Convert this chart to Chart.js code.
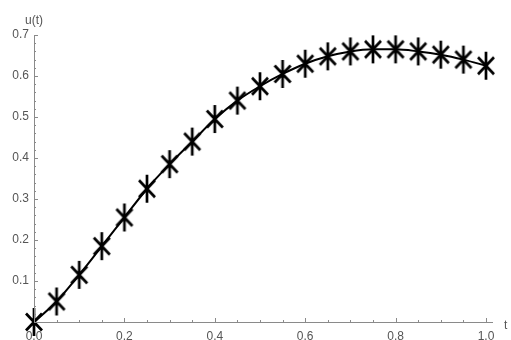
<!DOCTYPE html>
<html>
<head>
<meta charset="utf-8">
<script src="https://cdn.jsdelivr.net/npm/chart.js@4/dist/chart.umd.min.js"></script>
<style>
  body { margin: 0; background: #fff; }
  #wrap { width: 511px; height: 340px; }
</style>
</head>
<body>
<div id="wrap"><canvas id="chart"></canvas></div>
<script>
const tValues = [0, 0.05, 0.1, 0.15, 0.2, 0.25, 0.3, 0.35, 0.4, 0.45, 0.5,
                 0.55, 0.6, 0.65, 0.7, 0.75, 0.8, 0.85, 0.9, 0.95, 1.0];
const uValues = [0, 0.05, 0.115, 0.185, 0.255, 0.325, 0.385, 0.44, 0.495, 0.54, 0.575,
                 0.605, 0.63, 0.648, 0.66, 0.665, 0.665, 0.66, 0.652, 0.64, 0.625];
const xTicks = [0, 0.2, 0.4, 0.6, 0.8, 1.0];
const yTicks = [0.1, 0.2, 0.3, 0.4, 0.5, 0.6, 0.7];
const xMinorStep = 0.05;
const yMinorStep = 0.02;

const axisColor = '#8a8a8a';
const labelColor = '#555';

// asterisk marker: vertical bar + X
function makeStar() {
    const c = document.createElement('canvas');
    c.width = 20; c.height = 30;
    const g = c.getContext('2d');
    g.strokeStyle = '#000';
    g.lineWidth = 2.7;
    g.lineCap = 'butt';
    g.beginPath();
    g.moveTo(10, 1); g.lineTo(10, 29);
    g.moveTo(2, 6.5); g.lineTo(18, 23.5);
    g.moveTo(18, 6.5); g.lineTo(2, 23.5);
    g.stroke();
    return c;
}

// Mathematica-style axes with inward ticks
const axesPlugin = {
    id: 'axes',
    afterDraw(chart) {
        const ctx = chart.ctx;
        const x = chart.scales.x, y = chart.scales.y;
        const x0 = x.getPixelForValue(0), y0 = y.getPixelForValue(0);
        ctx.save();
        ctx.strokeStyle = axisColor;
        ctx.lineWidth = 1;
        ctx.beginPath();
        ctx.moveTo(x0 + 0.5, y0);
        ctx.lineTo(x0 + 0.5, y.getPixelForValue(0.7));
        ctx.moveTo(x0, y0 + 0.5);
        ctx.lineTo(x.getPixelForValue(1.0) + 7, y0 + 0.5);
        for (let i = 1; i * xMinorStep <= 1.0001; i++) {
            const v = i * xMinorStep;
            const px = Math.round(x.getPixelForValue(v)) + 0.5;
            const len = (i % 4 === 0) ? 4 : 2;
            ctx.moveTo(px, y0);
            ctx.lineTo(px, y0 - len);
        }
        for (let i = 1; i * yMinorStep <= 0.7001; i++) {
            const v = i * yMinorStep;
            const py = Math.round(y.getPixelForValue(v)) + 0.5;
            const len = (i % 5 === 0) ? 4 : 2;
            ctx.moveTo(x0, py);
            ctx.lineTo(x0 + len, py);
        }
        ctx.stroke();

        ctx.fillStyle = labelColor;
        ctx.font = '12px "Liberation Sans", Arial, sans-serif';
        ctx.textAlign = 'center';
        ctx.textBaseline = 'middle';
        ctx.fillText('u(t)', x0, 21);
        ctx.textAlign = 'left';
        ctx.fillText('t', x.getPixelForValue(1.0) + 18, y0 + 4);
        ctx.restore();
    }
};

const ctx = document.getElementById('chart').getContext('2d');
new Chart(ctx, {
    type: 'line',
    data: {
        datasets: [{
            data: tValues.map((t, i) => ({ x: t, y: uValues[i] })),
            borderColor: '#000',
            borderWidth: 2,
            cubicInterpolationMode: 'monotone',
            pointStyle: makeStar(),
            pointRadius: 10,
            clip: false
        }]
    },
    options: {
        responsive: true,
        maintainAspectRatio: false,
        animation: false,
        events: [],
        layout: { padding: { top: 35, right: 25, left: 0, bottom: 0 } },
        plugins: { legend: { display: false }, tooltip: { enabled: false } },
        scales: {
            x: {
                type: 'linear',
                min: 0,
                max: 1.0,
                afterBuildTicks: s => { s.ticks = xTicks.map(v => ({ value: v })); },
                afterFit: s => { s.height = 18; },
                grid: { display: false, drawTicks: false },
                border: { display: false },
                ticks: {
                    color: labelColor,
                    padding: 7,
                    font: { family: '"Liberation Sans", Arial, sans-serif', size: 12 },
                    callback: v => v.toFixed(1)
                }
            },
            y: {
                type: 'linear',
                min: 0,
                max: 0.7,
                afterBuildTicks: s => { s.ticks = yTicks.map(v => ({ value: v })); },
                afterFit: s => { s.width = 34; },
                grid: { display: false, drawTicks: false },
                border: { display: false },
                ticks: {
                    color: labelColor,
                    padding: 5,
                    font: { family: '"Liberation Sans", Arial, sans-serif', size: 12 },
                    callback: v => v.toFixed(1)
                }
            }
        }
    },
    plugins: [axesPlugin]
});
</script>
</body>
</html>
